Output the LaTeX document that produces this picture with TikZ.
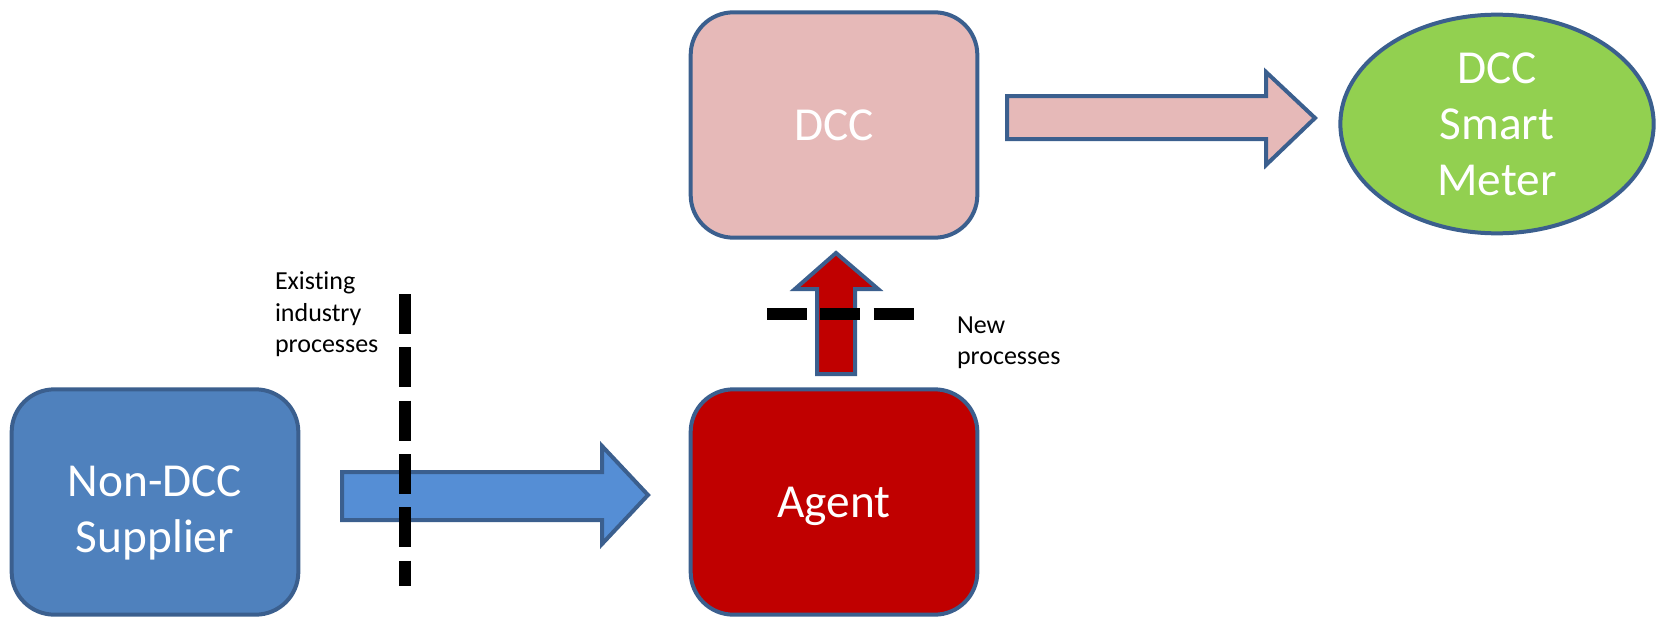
\documentclass[tikz,border=0pt]{standalone}
\usepackage{fontspec}
\setmainfont{Carlito}[Ligatures=NoCommon]
\usetikzlibrary{shapes.geometric}
\definecolor{rimblue}{HTML}{3B5F8E}
\definecolor{supplierblue}{HTML}{4F81BD}
\definecolor{flowblue}{HTML}{558ED5}
\definecolor{dccpink}{HTML}{E6B9B8}
\definecolor{agentred}{HTML}{C00000}
\definecolor{metergreen}{HTML}{92D050}

\begin{document}
\begin{tikzpicture}[x=0.75pt,y=-0.75pt,line width=3pt,
                    font=\fontsize{35.5}{42}\selectfont]

  \tikzstyle{party}=[rectangle,rounded corners=32pt,draw=rimblue,align=center,
                     text=white,text depth=0pt,minimum width=215pt,minimum height=169pt]
  \tikzstyle{caption}=[text=white,align=center,yshift=-8pt]
  \tikzstyle{flow}=[draw=rimblue,line join=miter]
  \tikzstyle{divide}=[line width=9.5pt,dash pattern=on 30pt off 10pt]
  \tikzstyle{note}=[align=left,anchor=north west,inner sep=0pt,
                    font=\fontsize{19.5}{23.4}\selectfont]

  \useasboundingbox (0,0) rectangle (1665,617);

  \node[party,fill=supplierblue,label={[caption]center:Non-DCC\\Supplier}]
        (SUP) at (155,502) {};
  \node[party,fill=dccpink]      (DCC) at (834,125) {DCC};
  \node[party,fill=agentred]     (AGT) at (834,502) {Agent};
  \node[ellipse,draw=rimblue,fill=metergreen,text=white,align=center,
        minimum width=235pt,minimum height=164pt,inner sep=0pt] (MTR)
        at (1497,124) {DCC\\Smart\\Meter};

  % block arrows
  \draw[flow,fill=flowblue]
    (342,472) -- (602,472) -- (602,446) -- (648,495) -- (602,544) -- (602,520)
    -- (342,520) -- cycle;
  \draw[flow,fill=dccpink]
    (1007,96) -- (1266,96) -- (1266,72) -- (1315,118) -- (1266,165) -- (1266,139)
    -- (1007,139) -- cycle;
  \draw[flow,fill=agentred]
    (817,374) -- (817,289) -- (795,289) -- (836,253) -- (878,289) -- (855,289)
    -- (855,374) -- cycle;

  % process boundaries
  \draw[divide] (405,294) -- (405,586);
  \draw[divide] (767,314) -- (914,314);

  \node[note] (OLD) at (273,270) {Existing\\industry\\processes};
  \node[note] (NEW) at (955,315) {New\\processes};
\end{tikzpicture}
\end{document}
